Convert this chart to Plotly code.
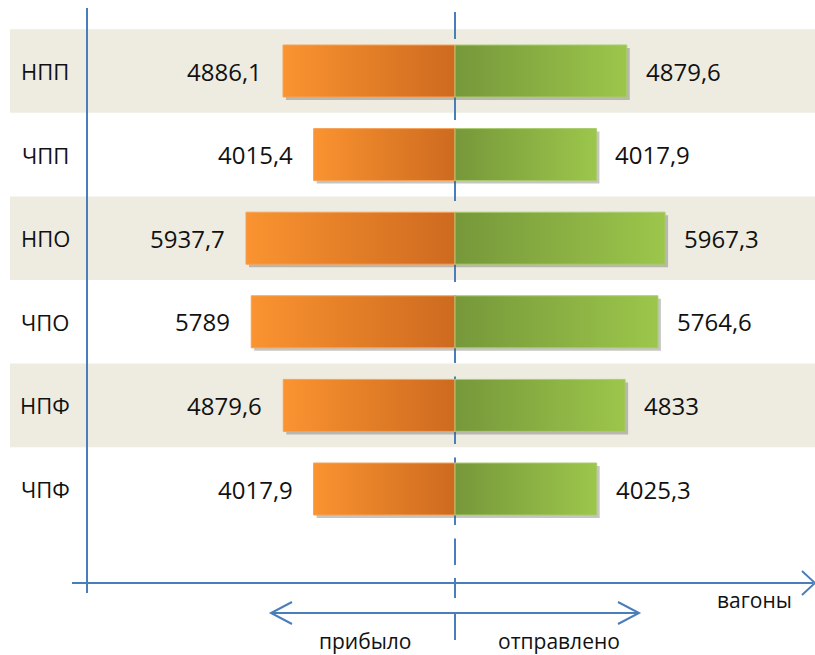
import plotly.graph_objects as go

# Wagon flow by station group: arrived (left) vs. sent (right)
categories = ["НПП", "ЧПП", "НПО", "ЧПО", "НПФ", "ЧПФ"]
arrived = [4886.1, 4015.4, 5937.7, 5789, 4879.6, 4017.9]
sent = [4879.6, 4017.9, 5967.3, 5764.6, 4833, 4025.3]

W, H = 815, 655
FONT = "Open Sans"
AXIS_BLUE = "#4A7EBB"
BAND = "#EEECE1"

# axis scale: px per wagon and centre column position
K = 0.0352
CX = 455.0
ROW0, ROWSTEP = 71.0, 83.6
HALF = 0.311  # half bar thickness in row units

x_range = [-CX / K, (W - CX) / K]
y_range = [(H - ROW0) / ROWSTEP, -ROW0 / ROWSTEP]

sdx = 3 / K          # shadow offset (x, data units)
sdy = 3 / ROWSTEP    # shadow offset (y, data units)


def px(x):
    return x / W


def py(y):
    return 1 - y / H


def fmt(v):
    return f"{v:g}".replace(".", ",")


fig = go.Figure()


def bar_poly(x0, x1, yc, colorscale, line_color):
    fig.add_trace(go.Scatter(
        x=[x0 + sdx, x1 + sdx, x1 + sdx, x0 + sdx, x0 + sdx],
        y=[yc - HALF + sdy, yc - HALF + sdy, yc + HALF + sdy, yc + HALF + sdy, yc - HALF + sdy],
        mode="lines", fill="toself", fillcolor="rgba(90,88,80,0.35)",
        line=dict(width=0), hoverinfo="skip"))
    fig.add_trace(go.Scatter(
        x=[x0, x1, x1, x0, x0],
        y=[yc - HALF, yc - HALF, yc + HALF, yc + HALF, yc - HALF],
        mode="lines", fill="toself",
        fillgradient=dict(type="horizontal", colorscale=colorscale),
        line=dict(width=1, color=line_color), hoverinfo="skip"))


for i, (a, s) in enumerate(zip(arrived, sent)):
    bar_poly(-a, 0, i, [[0, "#FA9330"], [1, "#CD6A1F"]], "#F5A25A")
    bar_poly(0, s, i, [[0, "#76983A"], [1, "#9CC64B"]], "#A9CB6E")

annotations = []
for i, (c, a, s) in enumerate(zip(categories, arrived, sent)):
    annotations.append(dict(x=px(45), xref="paper", y=i, yref="y", text=c,
                            showarrow=False, xanchor="center",
                            font=dict(family=FONT, size=22, color="#111")))
    annotations.append(dict(x=-a, xref="x", y=i, yref="y", text=fmt(a),
                            showarrow=False, xanchor="right", xshift=-19,
                            font=dict(family=FONT, size=24, color="#111")))
    annotations.append(dict(x=s, xref="x", y=i, yref="y", text=fmt(s),
                            showarrow=False, xanchor="left", xshift=17,
                            font=dict(family=FONT, size=24, color="#111")))

for txt, x, y in [("вагоны", 754, 600), ("прибыло", 365, 641), ("отправлено", 559, 641)]:
    annotations.append(dict(x=px(x), y=py(y), xref="paper", yref="paper", text=txt,
                            showarrow=False, xanchor="center", yanchor="middle",
                            font=dict(family=FONT, size=21, color="#111")))

shapes = []
# alternating row bands
for i in range(0, len(categories), 2):
    shapes.append(dict(type="rect", xref="paper", yref="y", x0=px(10), x1=1,
                       y0=i - 0.5, y1=i + 0.5, fillcolor=BAND,
                       line=dict(width=0), layer="below"))

line_style = dict(color=AXIS_BLUE, width=2)
# dashed centre divider
shapes.append(dict(type="line", xref="paper", yref="paper", x0=px(CX), x1=px(CX),
                   y0=py(12), y1=py(565), line=dict(color=AXIS_BLUE, width=2, dash="27px,13.5px"),
                   layer="below"))
shapes.append(dict(type="line", xref="paper", yref="paper", x0=px(CX), x1=px(CX),
                   y0=py(578), y1=py(598), line=line_style))
shapes.append(dict(type="line", xref="paper", yref="paper", x0=px(CX), x1=px(CX),
                   y0=py(612), y1=py(640), line=line_style))
# vertical axis
shapes.append(dict(type="line", xref="paper", yref="paper", x0=px(87), x1=px(87),
                   y0=py(8), y1=py(593), line=line_style))
# horizontal axis with open arrowhead
shapes.append(dict(type="line", xref="paper", yref="paper", x0=px(72), x1=px(813),
                   y0=py(583), y1=py(583), line=line_style))
shapes.append(dict(type="path", xref="paper", yref="paper",
                   path=f"M {px(802)},{py(571)} L {px(815)},{py(583)} L {px(802)},{py(595)}",
                   line=line_style))
# double-headed direction arrow
shapes.append(dict(type="line", xref="paper", yref="paper", x0=px(271), x1=px(639),
                   y0=py(613), y1=py(613), line=line_style))
shapes.append(dict(type="path", xref="paper", yref="paper",
                   path=f"M {px(292)},{py(602)} L {px(271)},{py(613)} L {px(292)},{py(624)}",
                   line=line_style))
shapes.append(dict(type="path", xref="paper", yref="paper",
                   path=f"M {px(618)},{py(602)} L {px(639)},{py(613)} L {px(618)},{py(624)}",
                   line=line_style))

fig.update_layout(
    width=W, height=H,
    margin=dict(l=0, r=0, t=0, b=0),
    paper_bgcolor="white", plot_bgcolor="white",
    showlegend=False,
    xaxis=dict(range=x_range, visible=False, fixedrange=True),
    yaxis=dict(range=y_range, visible=False, fixedrange=True),
    shapes=shapes, annotations=annotations,
)

fig.write_html("out.html")
